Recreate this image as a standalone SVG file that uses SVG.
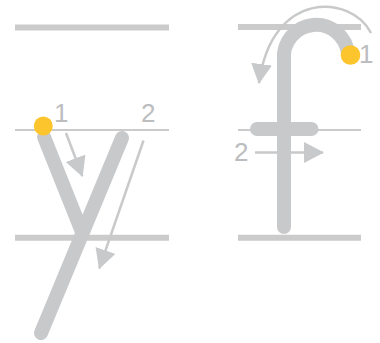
<svg xmlns="http://www.w3.org/2000/svg" width="380" height="343" viewBox="0 0 380 343">
  <style>
    .guide { stroke: #cbcbcc; fill: none; }
    .thick { stroke-width: 6; }
    .thin { stroke-width: 2; }
    .stroke { stroke: #c8c9cb; stroke-width: 14; stroke-linecap: round; stroke-linejoin: round; fill: none; }
    .arrow { stroke: #c8c9cb; stroke-width: 2.5; fill: none; marker-end: url(#head); }
    .dot { fill: #fcc52e; }
    .label { font-family: "Liberation Sans", Arial, sans-serif; font-size: 26px; fill: #bcbdbf; }
  </style>
  <defs>
    <marker id="head" markerUnits="userSpaceOnUse" markerWidth="22" markerHeight="22" refX="19" refY="10.5" orient="auto">
      <path d="M0,0 L20,10.5 L0,21 Z" fill="#c8c9cb"/>
    </marker>
  </defs>

  <g id="guides-left">
    <line class="guide thick" x1="15" y1="27.5" x2="169" y2="27.5"/>
    <line class="guide thin" x1="15" y1="130" x2="169" y2="130"/>
    <line class="guide thick" x1="15" y1="237.7" x2="169" y2="237.7"/>
  </g>
  <g id="guides-right">
    <line class="guide thick" x1="238" y1="27" x2="361" y2="27"/>
    <line class="guide thin" x1="238" y1="130" x2="361" y2="130"/>
    <line class="guide thick" x1="238" y1="237.7" x2="361" y2="237.7"/>
  </g>

  <g id="letter-y">
    <line class="stroke" x1="44" y1="137" x2="82" y2="232"/>
    <line class="stroke" x1="122" y1="138" x2="41" y2="333"/>
  </g>

  <g id="letter-f">
    <path class="stroke" d="M284,227 V60 A32 32 0 0 1 348 54"/>
    <line class="stroke" stroke-width="13" x1="257" y1="129" x2="311.5" y2="129"/>
  </g>

  <g id="connectors">
    <line class="arrow" x1="66" y1="133" x2="82.3" y2="176"/>
    <line class="arrow" x1="143.5" y1="140.5" x2="99.3" y2="268.3"/>
    <line class="arrow" x1="255" y1="152.5" x2="323" y2="152.5"/>
    <path class="arrow" d="M371,33 C352,-5 272,-12 259,83"/>
  </g>

  <g id="start-y">
    <circle class="dot" cx="43.3" cy="126" r="9.5"/>
    <text class="label" x="54" y="122">1</text>
    <text class="label" x="141" y="122">2</text>
  </g>
  <g id="start-f">
    <circle class="dot" cx="350.5" cy="55" r="9.8"/>
    <text class="label" x="359" y="62.7">1</text>
    <text class="label" x="234" y="161">2</text>
  </g>
</svg>
